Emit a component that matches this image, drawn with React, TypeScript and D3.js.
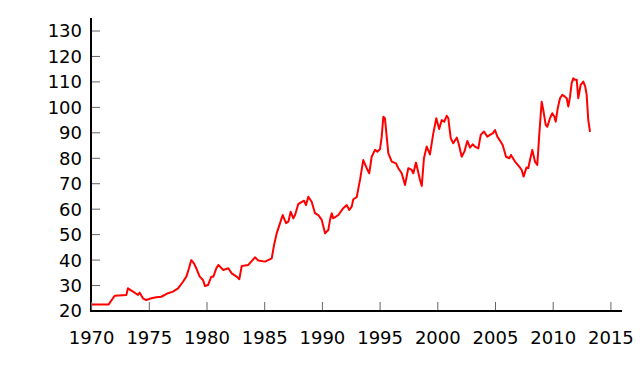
import * as d3 from "d3"

// decimal year, index value
const years = [
  1970.0, 1971.48, 1972.0, 1973.01, 1973.15, 1973.59, 1974.02, 1974.17, 1974.45, 1974.74,
  1975.17, 1975.61, 1976.04, 1976.62, 1977.05, 1977.49, 1977.92, 1978.21, 1978.44, 1978.64,
  1978.87, 1979.07, 1979.37, 1979.65, 1979.83, 1980.09, 1980.37, 1980.55, 1980.81, 1980.98,
  1981.41, 1981.85, 1982.14, 1982.57, 1982.8, 1983.01, 1983.58, 1984.16, 1984.45, 1985.03,
  1985.61, 1985.81, 1986.04, 1986.33, 1986.56, 1986.85, 1987.05, 1987.25, 1987.48, 1987.63,
  1987.91, 1988.21, 1988.41, 1988.58, 1988.78, 1989.07, 1989.36, 1989.65, 1989.94, 1990.23,
  1990.51, 1990.66, 1990.81, 1990.94, 1991.38, 1991.81, 1992.11, 1992.33, 1992.54, 1992.68,
  1992.97, 1993.26, 1993.54, 1993.84, 1994.06, 1994.27, 1994.56, 1994.76, 1994.99, 1995.14,
  1995.28, 1995.42, 1995.71, 1996.01, 1996.38, 1996.58, 1996.87, 1997.16, 1997.44, 1997.74,
  1997.88, 1998.11, 1998.46, 1998.61, 1998.8, 1999.04, 1999.32, 1999.61, 1999.87, 2000.12,
  2000.34, 2000.56, 2000.77, 2000.91, 2001.12, 2001.34, 2001.64, 2001.78, 2002.07, 2002.3,
  2002.56, 2002.79, 2003.02, 2003.22, 2003.51, 2003.72, 2004.0, 2004.29, 2004.52, 2004.76,
  2004.96, 2005.16, 2005.45, 2005.62, 2005.91, 2006.2, 2006.34, 2006.69, 2007.06, 2007.27,
  2007.43, 2007.69, 2007.84, 2007.99, 2008.19, 2008.42, 2008.62, 2008.8, 2009.0, 2009.14,
  2009.35, 2009.49, 2009.72, 2009.92, 2010.1, 2010.22, 2010.39, 2010.59, 2010.79, 2011.02,
  2011.17, 2011.31, 2011.46, 2011.6, 2011.74, 2011.89, 2012.04, 2012.17, 2012.38, 2012.61,
  2012.78, 2012.9, 2013.04, 2013.19,
]
const values = [
  22.6, 22.6, 26.0, 26.3, 28.9, 27.6, 26.3, 27.2, 25.0, 24.3,
  25.0, 25.4, 25.6, 27.0, 27.6, 28.9, 31.5, 33.5, 36.8, 40.0,
  38.7, 36.8, 33.5, 32.2, 29.8, 30.2, 33.5, 33.5, 36.8, 38.1,
  36.1, 36.8, 34.8, 33.5, 32.5, 37.7, 38.1, 41.1, 39.8, 39.4,
  40.7, 45.9, 50.5, 54.5, 57.7, 54.5, 55.1, 59.0, 56.4, 57.7,
  62.0, 62.9, 63.3, 61.6, 64.9, 62.9, 58.4, 57.7, 55.8, 50.5,
  51.8, 55.8, 58.4, 56.4, 57.7, 60.4, 61.6, 59.7, 61.0, 63.9,
  64.7, 71.5, 79.3, 76.1, 74.1, 80.6, 83.3, 82.6, 83.5, 88.5,
  96.3, 95.7, 82.0, 78.7, 78.0, 76.1, 74.1, 69.5, 76.1, 75.4,
  74.1, 78.3, 71.5, 69.1, 80.0, 84.6, 81.5, 89.8, 95.7, 91.5,
  95.0, 94.4, 96.7, 95.7, 87.9, 85.9, 88.1, 86.3, 80.6, 82.6,
  86.8, 84.2, 85.5, 84.6, 83.9, 89.2, 90.5, 88.5, 89.2, 89.8,
  91.1, 88.5, 86.5, 85.2, 80.6, 80.0, 81.3, 78.7, 76.7, 75.4,
  72.8, 76.4, 76.1, 79.3, 83.3, 78.7, 77.4, 89.8, 102.2, 99.0,
  93.1, 92.4, 95.7, 97.7, 96.3, 94.4, 99.6, 103.6, 104.9, 104.2,
  103.6, 100.3, 104.2, 109.5, 111.4, 110.8, 110.8, 103.6, 108.8, 110.1,
  108.1, 104.9, 95.0, 90.4,
]
const xTicks = [1970, 1975, 1980, 1985, 1990, 1995, 2000, 2005, 2010, 2015]
const yTicks = [20, 30, 40, 50, 60, 70, 80, 90, 100, 110, 120, 130]

const W = 640
const H = 366

export default function App() {
  const x = d3.scaleLinear().domain([1970, 2015]).range([91.6, 610.9])
  const y = d3.scaleLinear().domain([20, 130]).range([311, 31])

  const pts: [number, number][] = years.map((yr, i) => [yr, values[i]])
  const line = d3.line<[number, number]>()
    .x(d => x(d[0]))
    .y(d => y(d[1]))

  const font = "'DejaVu Sans', sans-serif"

  return (
    <svg width={W} height={H} style={{ position: "absolute", left: 0, top: 0, background: "#fff" }}>
      <path d={line(pts) ?? ""} fill="none" stroke="#ff0000" strokeWidth={2} strokeLinejoin="round" />

      {/* y axis */}
      {yTicks.map(t => (
        <g key={"y" + t}>
          <line x1={91} x2={100} y1={y(t)} y2={y(t)} stroke="#666" strokeWidth={1} />
          <text x={82} y={y(t)} dy="0.36em" textAnchor="end" fontFamily={font} fontSize={18} fill="#000">{t}</text>
        </g>
      ))}
      <line x1={91} x2={91} y1={18} y2={311} stroke="#000" strokeWidth={2} />

      {/* x axis */}
      {xTicks.map(t => (
        <g key={"x" + t}>
          <line x1={x(t)} x2={x(t)} y1={311} y2={302} stroke="#666" strokeWidth={1} />
          <text x={x(t)} y={344} textAnchor="middle" fontFamily={font} fontSize={18} fill="#000">{t}</text>
        </g>
      ))}
      <line x1={90} x2={622} y1={311} y2={311} stroke="#000" strokeWidth={2} />
    </svg>
  )
}
